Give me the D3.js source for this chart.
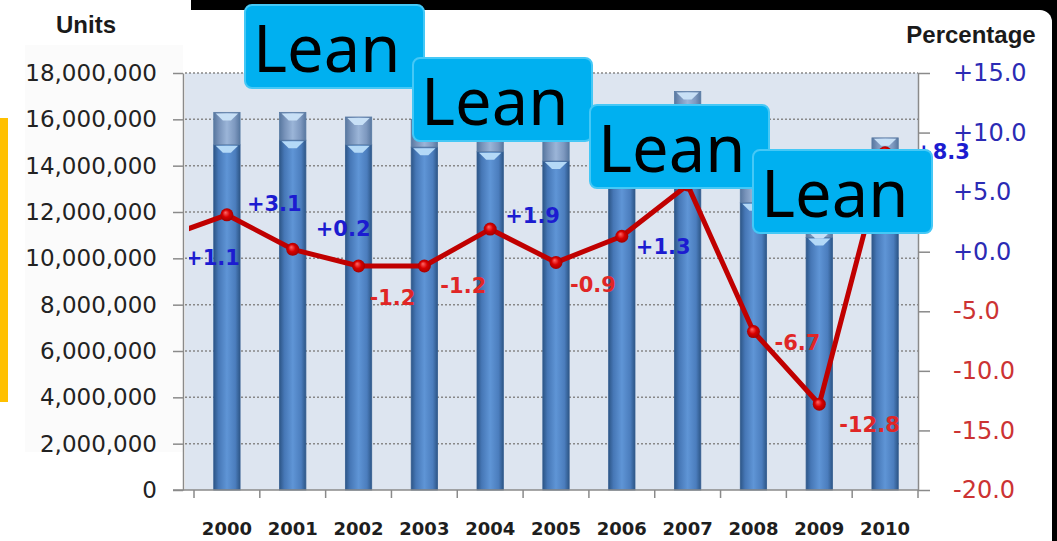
<!DOCTYPE html>
<html>
<head>
<meta charset="utf-8">
<script src="https://cdn.jsdelivr.net/npm/d3@7"></script>
<style>
  body { margin: 0; background: #fff; }
  svg { display: block; }
</style>
</head>
<body>
<svg id="chart" width="1057" height="541"></svg>
<script>
const width = 1057
const height = 541

// ---- data ----
const years = [2000, 2001, 2002, 2003, 2004, 2005, 2006, 2007, 2008, 2009, 2010]
// dark lower part of each cylinder, units
const lowerUnits = [14900000, 15100000, 14900000, 14800000, 14600000, 14200000, 13900000, 15600000, 12400000, 10900000, 14400000]
// full height of each cylinder, units
const totalUnits = [16300000, 16300000, 16100000, 16000000, 16300000, 15600000, 15300000, 17200000, 13600000, 11200000, 15200000]
// yearly change in percent (1999 point sits just off the left edge)
const pctYears = [1999, 2000, 2001, 2002, 2003, 2004, 2005, 2006, 2007, 2008, 2009, 2010]
const pctChange = [1.1, 3.1, 0.2, -1.2, -1.2, 1.9, -0.9, 1.3, 5.6, -6.7, -12.8, 8.3]
const unitTicks = [0, 2000000, 4000000, 6000000, 8000000, 10000000, 12000000, 14000000, 16000000, 18000000]
const pctTicks = [-20, -15, -10, -5, 0, 5, 10, 15]
const noteLabel = 'Lean'

// ---- layout ----
const plot = { left: 183, right: 918, top: 73, bottom: 490, bandLeft: 194 }
// label offsets [dx, dy] from each point, same order as pctYears (null = covered, not drawn)
const labelNudge = [[24, 19], [20, -11], [23, -21], [11, 31], [16, 19], [15, -14],
                    [14, 22], [14, 10], null, [21, 11], [20, 20], [30, -1]]
const notes = [{ x: 245, y: 5 }, { x: 413, y: 58 }, { x: 590, y: 105 }, { x: 753, y: 150 }]

const svg = d3.select('#chart')
const defs = svg.append('defs')

const grad = (id, stops) => {
    const g = defs.append('linearGradient').attr('id', id)
        .attr('x1', 0).attr('x2', 1).attr('y1', 0).attr('y2', 0)
    stops.forEach(s => g.append('stop').attr('offset', s[0]).attr('stop-color', s[1]))
}
grad('lowerGrad', [[0, '#2d5687'], [0.18, '#4677b6'], [0.5, '#5f95d6'], [0.82, '#4b7dbd'], [1, '#2d5687']])
grad('upperGrad', [[0, '#58779f'], [0.2, '#7893ba'], [0.5, '#9bb5d8'], [0.8, '#7d98bf'], [1, '#58779f']])

const dot = defs.append('radialGradient').attr('id', 'dotGrad')
    .attr('cx', 0.5).attr('cy', 0.5).attr('r', 0.55).attr('fx', 0.38).attr('fy', 0.32)
dot.append('stop').attr('offset', 0).attr('stop-color', '#ff6a6a')
dot.append('stop').attr('offset', 0.5).attr('stop-color', '#d80000')
dot.append('stop').attr('offset', 1).attr('stop-color', '#9a0000')

defs.append('clipPath').attr('id', 'leftClip')
    .append('rect').attr('x', 189).attr('y', 0).attr('width', width - 189).attr('height', height)

// ---- frame ----
svg.append('rect').attr('x', 191).attr('y', 0).attr('width', width - 191).attr('height', height).attr('fill', '#000')
svg.append('rect').attr('x', -20).attr('y', 10).attr('width', 1072).attr('height', height + 20)
    .attr('rx', 12).attr('fill', '#fff')
svg.append('rect').attr('x', 0).attr('y', 118).attr('width', 8).attr('height', 284).attr('fill', '#ffc000')
svg.append('rect').attr('x', 25).attr('y', 45).attr('width', 158).attr('height', 407).attr('fill', '#fbfbfb')

// ---- scales ----
const x = d3.scaleBand()
    .domain(years)
    .range([plot.bandLeft, plot.right])
    .paddingInner(0.6)
    .paddingOuter(0.3)

const cx = yr => x(2000) + x.bandwidth() / 2 + (yr - 2000) * x.step()

const yL = d3.scaleLinear()
    .domain([0, 18000000])
    .range([plot.bottom, plot.top])

const yR = d3.scaleLinear()
    .domain([-20, 15])
    .range([plot.bottom, plot.top])

// ---- plot background and grid ----
svg.append('rect')
    .attr('x', plot.left + 2).attr('y', plot.top)
    .attr('width', plot.right - plot.left - 2).attr('height', plot.bottom - plot.top)
    .attr('fill', '#dde5f0')

svg.append('g')
    .selectAll('line')
    .data(unitTicks.filter(d => d > 0))
    .join('line')
    .attr('x1', plot.left + 2)
    .attr('x2', plot.right)
    .attr('y1', d => yL(d))
    .attr('y2', d => yL(d))
    .attr('stroke', '#888')
    .attr('stroke-width', 1.5)
    .attr('stroke-dasharray', '2,2')

// ---- cylinders ----
const bars = svg.append('g')
    .selectAll('g')
    .data(years.map((yr, i) => ({ yr, lower: lowerUnits[i], total: totalUnits[i] })))
    .join('g')

bars.append('rect')
    .attr('x', d => x(d.yr))
    .attr('y', d => yL(d.lower))
    .attr('width', x.bandwidth())
    .attr('height', d => yL(0) - yL(d.lower))
    .attr('fill', 'url(#lowerGrad)')
    .attr('stroke', '#345d90')
    .attr('stroke-width', 0.8)

bars.append('rect')
    .attr('x', d => x(d.yr))
    .attr('y', d => yL(d.total))
    .attr('width', x.bandwidth())
    .attr('height', d => yL(d.lower) - yL(d.total))
    .attr('fill', 'url(#upperGrad)')
    .attr('stroke', '#587aa3')
    .attr('stroke-width', 0.8)

const cap = (d, v) => {
    const l = x(d.yr), w = x.bandwidth(), t = yL(v)
    return `M${l + 2},${t + 1}L${l + w - 2},${t + 1}L${l + w / 2 + 4},${t + 8}L${l + w / 2 - 4},${t + 8}Z`
}
bars.append('path').attr('d', d => cap(d, d.lower)).attr('fill', '#b4d9f7')
bars.append('path').attr('d', d => cap(d, d.total)).attr('fill', '#c8e0f6')

// ---- axes ----
const axisGray = '#8a8a8a'

svg.append('g')
    .attr('transform', `translate(${plot.left},0)`)
    .call(d3.axisLeft(yL).tickValues(unitTicks).tickFormat(d3.format(',')).tickSize(10).tickSizeOuter(0).tickPadding(16))
    .call(g => g.selectAll('path, line').attr('stroke', axisGray).attr('stroke-width', 1.5))
    .call(g => g.selectAll('text')
        .attr('font-family', 'DejaVu Sans, sans-serif')
        .attr('font-size', 23)
        .attr('fill', '#222'))

svg.append('g')
    .attr('transform', `translate(${plot.right},0)`)
    .call(d3.axisRight(yR).tickValues(pctTicks).tickFormat(d => (d >= 0 ? '+' : '') + d.toFixed(1))
        .tickSize(12).tickSizeOuter(0).tickPadding(23))
    .call(g => g.selectAll('path, line').attr('stroke', axisGray).attr('stroke-width', 1.5))
    .call(g => g.selectAll('text')
        .attr('font-family', 'DejaVu Sans, sans-serif')
        .attr('font-size', 24)
        .attr('fill', d => d >= 0 ? '#2b2bb4' : '#cc3333'))

svg.append('g')
    .attr('transform', `translate(0,${plot.bottom})`)
    .call(d3.axisBottom(x).tickSize(0).tickPadding(32))
    .call(g => g.select('.domain').remove())
    .call(g => g.selectAll('text')
        .attr('font-family', 'DejaVu Sans, sans-serif')
        .attr('font-weight', 'bold')
        .attr('font-size', 18)
        .attr('fill', '#1e1e1e'))

const gap = (x.step() - x.bandwidth()) / 2
const bounds = years.map(yr => x(yr) - gap).concat([plot.right])
svg.append('line')
    .attr('x1', plot.left - 10).attr('x2', plot.right)
    .attr('y1', plot.bottom).attr('y2', plot.bottom)
    .attr('stroke', axisGray).attr('stroke-width', 1.5)
svg.append('g')
    .selectAll('line')
    .data(bounds)
    .join('line')
    .attr('x1', d => d).attr('x2', d => d)
    .attr('y1', plot.bottom).attr('y2', plot.bottom + 8)
    .attr('stroke', axisGray).attr('stroke-width', 1.5)

// ---- percentage line ----
const pts = pctYears.map((yr, i) => ({ yr, v: pctChange[i], nudge: labelNudge[i] }))
const lineG = svg.append('g').attr('clip-path', 'url(#leftClip)')

lineG.append('path')
    .datum(pts)
    .attr('fill', 'none')
    .attr('stroke', '#c00000')
    .attr('stroke-width', 5)
    .attr('stroke-linejoin', 'round')
    .attr('d', d3.line().x(d => cx(d.yr)).y(d => yR(d.v)))

lineG.selectAll('circle')
    .data(pts)
    .join('circle')
    .attr('cx', d => cx(d.yr))
    .attr('cy', d => yR(d.v))
    .attr('r', 6.5)
    .attr('fill', 'url(#dotGrad)')

lineG.selectAll('text')
    .data(pts.filter(d => d.nudge))
    .join('text')
    .attr('x', d => cx(d.yr) + d.nudge[0])
    .attr('y', d => yR(d.v) + d.nudge[1])
    .attr('dy', '0.36em')
    .attr('font-family', 'DejaVu Sans, sans-serif')
    .attr('font-weight', 'bold')
    .attr('font-size', 21)
    .attr('fill', d => d.v >= 0 ? '#1c1cd0' : '#e02626')
    .text(d => (d.v >= 0 ? '+' : '') + d.v.toFixed(1))

// ---- axis titles ----
svg.append('text')
    .attr('x', 86).attr('y', 33)
    .attr('text-anchor', 'middle')
    .attr('font-family', 'Liberation Sans, Arial, sans-serif')
    .attr('font-weight', 'bold')
    .attr('font-size', 24)
    .attr('fill', '#1a1a1a')
    .text('Units')

svg.append('text')
    .attr('x', 971).attr('y', 43)
    .attr('text-anchor', 'middle')
    .attr('font-family', 'Liberation Sans, Arial, sans-serif')
    .attr('font-weight', 'bold')
    .attr('font-size', 24)
    .attr('fill', '#1a1a1a')
    .text('Percentage')

// ---- overlay notes ----
const noteG = svg.append('g')
    .selectAll('g')
    .data(notes)
    .join('g')
    .attr('transform', d => `translate(${d.x},${d.y})`)

noteG.append('rect')
    .attr('width', 179).attr('height', 83)
    .attr('rx', 7)
    .attr('fill', '#00b0f0')
    .attr('stroke', '#45c8f6')
    .attr('stroke-width', 2)

noteG.append('text')
    .attr('x', 8).attr('y', 67)
    .attr('font-family', 'Noto Sans, sans-serif')
    .attr('font-size', 65)
    .attr('fill', '#000')
    .text(noteLabel)
</script>
</body>
</html>
